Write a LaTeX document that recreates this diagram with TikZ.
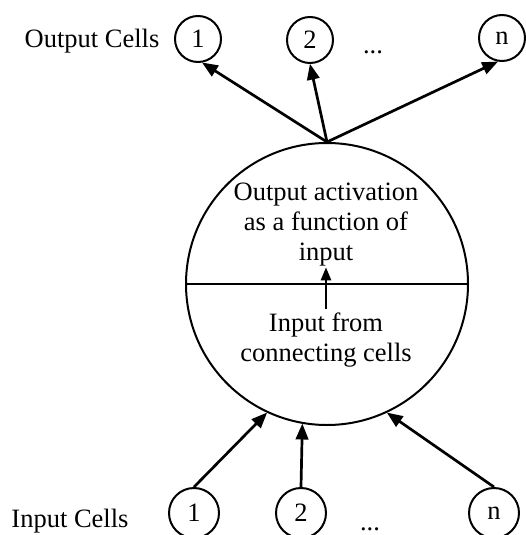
\documentclass[tikz,border=0pt]{standalone}
\usepackage{fontspec}
\setmainfont{Liberation Serif}
\usepackage{tikz}
\usetikzlibrary{arrows}

\begin{document}
\begin{tikzpicture}[x=1pt,y=-1pt,line width=2pt,font=\fontsize{26.5}{30}\selectfont,
  outcell/.style={circle,draw,inner sep=0pt,minimum size=46pt},
  incell/.style={circle,draw,inner sep=0pt,minimum size=50pt},
  wire/.style={-triangle 45,line width=2.7pt}]
  \useasboundingbox (0,0) rectangle (525,535);

  \node (outlbl) at (92,41) {Output Cells};
  \node[outcell] (out1) at (198,39) {1};
  \node[outcell] (out2) at (310,40) {2};
  \node[anchor=base] (outdots) at (373,54) {...};
  \node[outcell] (outn) at (502,38) {n};

  \node[circle,draw,inner sep=0pt,minimum size=282pt] (cell) at (327,284) {};
  \draw (cell.west) -- (cell.east);
  \node[align=center,inner sep=0pt] (act) at (326,225) {Output activation\\as a function of\\input};
  \node[align=center,inner sep=0pt] (inp) at (326,340) {Input from\\connecting cells};
  \draw[-triangle 45,shorten <=3pt] (inp.north) -- (act.south);

  \node (inlbl) at (70,521) {Input Cells};
  \node[incell] (in1) at (194,513) {1};
  \node[incell] (in2) at (301,513) {2};
  \node[anchor=base] (indots) at (370,530) {...};
  \node[incell] (inn) at (494,513) {n};

  \draw[wire] (cell.north) -- (out1.-80);
  \draw[wire] (cell.north) -- (out2.south);
  \draw[wire] (cell.north) -- (outn.-100);
  \draw[wire] (in1.north) -- (cell.-115);
  \draw[wire] (in2.north) -- (cell.-100);
  \draw[wire] (inn.north) -- (cell.-65);
\end{tikzpicture}
\end{document}
